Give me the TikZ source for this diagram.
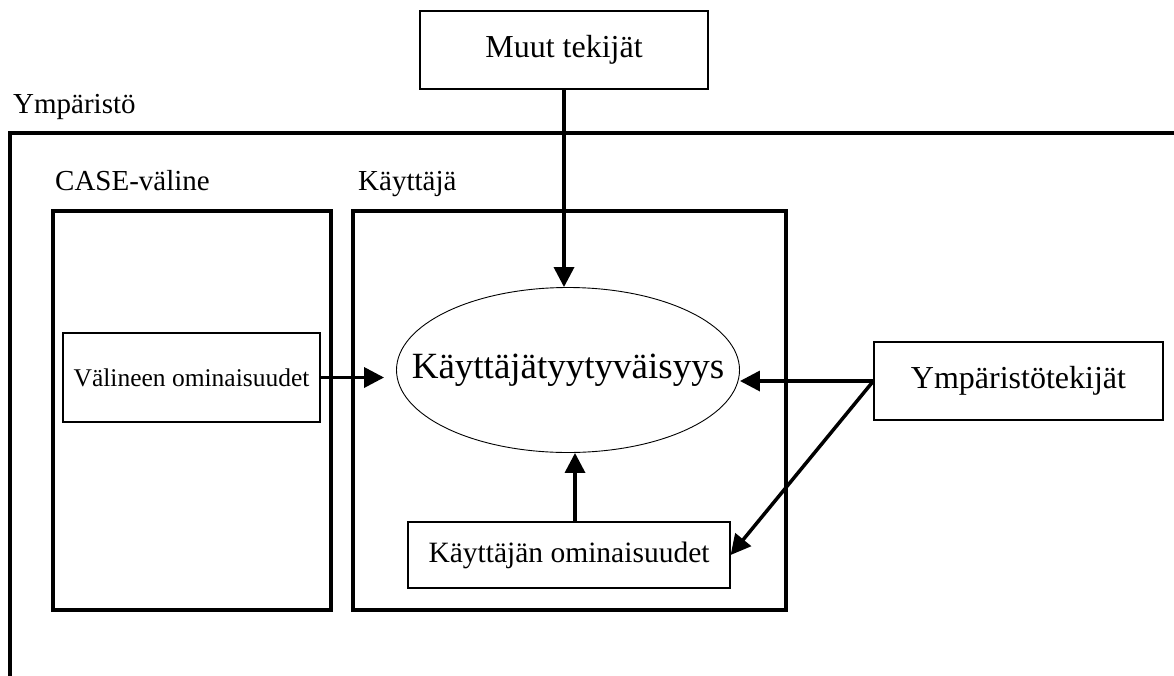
\documentclass[tikz,border=0pt]{standalone}
\usepackage{fontspec}
\setmainfont{Liberation Serif}
\usetikzlibrary{arrows.meta, shapes.geometric, positioning}

\tikzset{
  box/.style={draw, rectangle, line width=1.2pt, inner sep=0pt},
  frame/.style={line width=4pt},
  arr/.style={line width=3.5pt, -{Triangle[length=20pt, width=20pt]}},
  lbl/.style={anchor=base west, inner sep=0pt, font=\fontsize{29}{34}\selectfont}
}

\begin{document}
\begin{tikzpicture}[x=1pt, y=-1pt]
\useasboundingbox (0,0) rectangle (1174,675);

% ymparisto (avoin kehys)
\draw[frame] (1190,133) -- (10,133) -- (10,690);
\node[lbl] (ymplbl) at (13,113) {Ympäristö};

% kaksi isoa laatikkoa
\draw[frame] (53,211) rectangle (331,610);
\node[lbl] (caselbl) at (55,190) {CASE-väline};
\draw[frame] (353,211) rectangle (786,610);
\node[lbl] (kaylbl) at (358,190) {Käyttäjä};

\node[box, minimum width=288pt, minimum height=78pt, font=\fontsize{32}{38}\selectfont]
  (muut) at (564,50) {Muut tekijät};
\node[draw, ellipse, line width=0.9pt, minimum width=343pt, minimum height=165pt,
  inner xsep=-36pt, inner ysep=0pt, font=\fontsize{37}{44}\selectfont]
  (tyyt) at (568,370) {Käyttäjätyytyväisyys};
\node[box, minimum width=257pt, minimum height=89pt, font=\fontsize{25.5}{30}\selectfont]
  (valom) at (191.5,377.5) {Välineen ominaisuudet};
\node[box, minimum width=289pt, minimum height=78pt, font=\fontsize{32}{38}\selectfont]
  (ymptek) at (1018.5,381) {Ympäristötekijät};
\node[box, minimum width=322pt, minimum height=66pt, font=\fontsize{29.5}{35}\selectfont]
  (kayom) at (569,555) {Käyttäjän ominaisuudet};

% nuolet
\draw[arr] (muut.south) -- (muut.south |- tyyt.north);
\draw[arr, shorten >=12pt] (valom.east) -- (valom.east -| tyyt.west);
\draw[arr] (ymptek.west) -- (ymptek.west -| tyyt.east);
\draw[arr] (ymptek.west) -- (kayom.east);
\draw[arr] ([xshift=6pt]kayom.north) -- ([xshift=6pt]kayom.north |- tyyt.south);
\end{tikzpicture}
\end{document}
